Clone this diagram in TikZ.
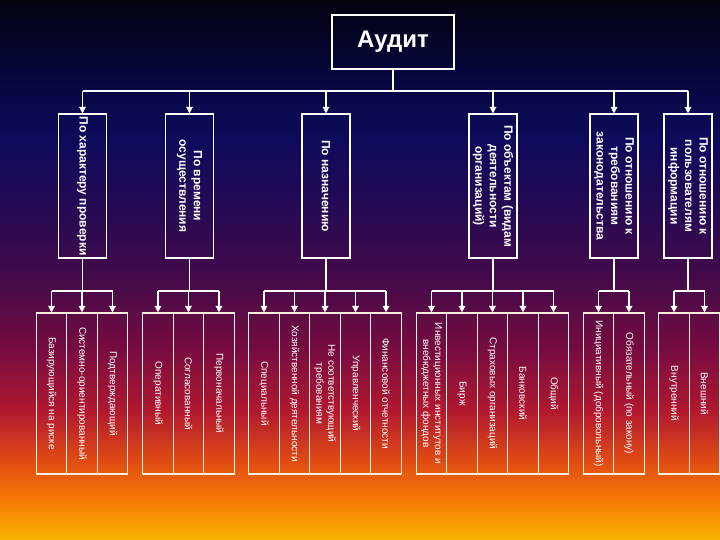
\documentclass[tikz,border=0pt]{standalone}
\usepackage{fontspec}
\setmainfont{Liberation Sans}
\usetikzlibrary{arrows.meta}
\definecolor{b0}{HTML}{020210}
\definecolor{b1}{HTML}{06063A}
\definecolor{b2}{HTML}{0E0A5C}
\definecolor{b3}{HTML}{2A0A52}
\definecolor{b4}{HTML}{4A0A48}
\definecolor{b5}{HTML}{780C40}
\definecolor{b6}{HTML}{B01830}
\definecolor{b7}{HTML}{E04A14}
\definecolor{b8}{HTML}{F57A05}
\definecolor{b9}{HTML}{FAB400}
\definecolor{leafline}{HTML}{FFF0DC}
\begin{document}
\begin{tikzpicture}[x=1pt,y=-1pt,
  lw/.style={draw=white, line width=1.3pt},
  arr/.style={draw=white, line width=1.3pt, -{Triangle[width=6.5pt,length=6.5pt]}},
  topbox/.style={draw=white, line width=1.3pt, minimum width=122pt, minimum height=54pt, inner sep=0pt, text=white, font=\bfseries\fontsize{24}{28}\selectfont},
  catbox/.style={draw=white, line width=1.1pt, rotate=-90, minimum width=144pt, minimum height=48pt, inner sep=1pt, align=center, text=white, font=\bfseries\fontsize{12}{14.5}\selectfont},
  leafbox/.style={draw=leafline, line width=1.1pt, rotate=-90, minimum width=161pt, minimum height=30.5pt, inner sep=1pt, align=center, text=white, font=\fontsize{10}{12}\selectfont},
]
\useasboundingbox (0,0) rectangle (720,540);
% background
\shade[top color=b0, bottom color=b1] (0,0) rectangle (720,70.5);
\shade[top color=b1, bottom color=b2] (0,70) rectangle (720,140.5);
\shade[top color=b2, bottom color=b3] (0,140) rectangle (720,220.5);
\shade[top color=b3, bottom color=b4] (0,220) rectangle (720,290.5);
\shade[top color=b4, bottom color=b5] (0,290) rectangle (720,350.5);
\shade[top color=b5, bottom color=b6] (0,350) rectangle (720,410.5);
\shade[top color=b6, bottom color=b7] (0,410) rectangle (720,460.5);
\shade[top color=b7, bottom color=b8] (0,460) rectangle (720,500.5);
\shade[top color=b8, bottom color=b9] (0,500) rectangle (720,540);

% top
\node[topbox] (audit) at (393,42) {Аудит};

% categories
\node[catbox] (c1) at (82.5,186) {По характеру проверки};
\node[catbox] (c2) at (189.5,186) {По времени\\осуществления};
\node[catbox] (c3) at (326,186) {По назначению};
\node[catbox] (c4) at (493,186) {По объектам (видам\\деятельности\\организаций)};
\node[catbox] (c5) at (614,186) {По отношению к\\требованиям\\законодательства};
\node[catbox] (c6) at (688,186) {По отношению к\\пользователям\\информации};

% leaves
\node[leafbox] (l11) at (51.5,393.5) {Базирующийся на риске};
\node[leafbox] (l12) at (82,393.5) {Системно-ориентированный};
\node[leafbox] (l13) at (112.5,393.5) {Подтверждающий};

\node[leafbox] (l21) at (158,393.5) {Оперативный};
\node[leafbox] (l22) at (188.5,393.5) {Согласованный};
\node[leafbox] (l23) at (219,393.5) {Первоначальный};

\node[leafbox] (l31) at (264,393.5) {Специальный};
\node[leafbox] (l32) at (294.5,393.5) {Хозяйственной деятельности};
\node[leafbox] (l33) at (325,393.5) {Не соответствующий\\требованиям};
\node[leafbox] (l34) at (355.5,393.5) {Управленческий};
\node[leafbox] (l35) at (386,393.5) {Финансовой отчетности};

\node[leafbox] (l41) at (431.5,393.5) {Инвестиционных институтов и\\внебюджетных фондов};
\node[leafbox] (l42) at (462,393.5) {Бирж};
\node[leafbox] (l43) at (492.5,393.5) {Страховых организаций};
\node[leafbox] (l44) at (523,393.5) {Банковский};
\node[leafbox] (l45) at (553.5,393.5) {Общий};

\node[leafbox] (l51) at (598.5,393.5) {Инициативный (добровольный)};
\node[leafbox] (l52) at (629,393.5) {Обязательный (по закону)};

\node[leafbox] (l61) at (674,393.5) {Внутренний};
\node[leafbox] (l62) at (704.5,393.5) {Внешний};

% connectors level 1
\coordinate (bus1) at (393,91);
\draw[lw] (audit.south) -- (bus1);
\draw[lw] (bus1 -| c1.west) -- (bus1 -| c6.west);
\foreach \c in {c1,c2,c3,c4,c5,c6}
  \draw[arr] (bus1 -| \c.west) -- (\c.west);

% connectors level 2
\coordinate (bus2) at (0,291);
\draw[lw] (c1.east) -- (bus2 -| c1.east);
\draw[lw] (bus2 -| l11.west) -- (bus2 -| l13.west);
\foreach \l in {l11,l12,l13} \draw[arr] (bus2 -| \l.west) -- (\l.west);

\draw[lw] (c2.east) -- (bus2 -| c2.east);
\draw[lw] (bus2 -| l21.west) -- (bus2 -| l23.west);
\foreach \l in {l21,l22,l23} \draw[arr] (bus2 -| \l.west) -- (\l.west);

\draw[lw] (c3.east) -- (bus2 -| c3.east);
\draw[lw] (bus2 -| l31.west) -- (bus2 -| l35.west);
\foreach \l in {l31,l32,l33,l34,l35} \draw[arr] (bus2 -| \l.west) -- (\l.west);

\draw[lw] (c4.east) -- (bus2 -| c4.east);
\draw[lw] (bus2 -| l41.west) -- (bus2 -| l45.west);
\foreach \l in {l41,l42,l43,l44,l45} \draw[arr] (bus2 -| \l.west) -- (\l.west);

\draw[lw] (c5.east) -- (bus2 -| c5.east);
\draw[lw] (bus2 -| l51.west) -- (bus2 -| l52.west);
\foreach \l in {l51,l52} \draw[arr] (bus2 -| \l.west) -- (\l.west);

\draw[lw] (c6.east) -- (bus2 -| c6.east);
\draw[lw] (bus2 -| l61.west) -- (bus2 -| l62.west);
\foreach \l in {l61,l62} \draw[arr] (bus2 -| \l.west) -- (\l.west);
\end{tikzpicture}
\end{document}
